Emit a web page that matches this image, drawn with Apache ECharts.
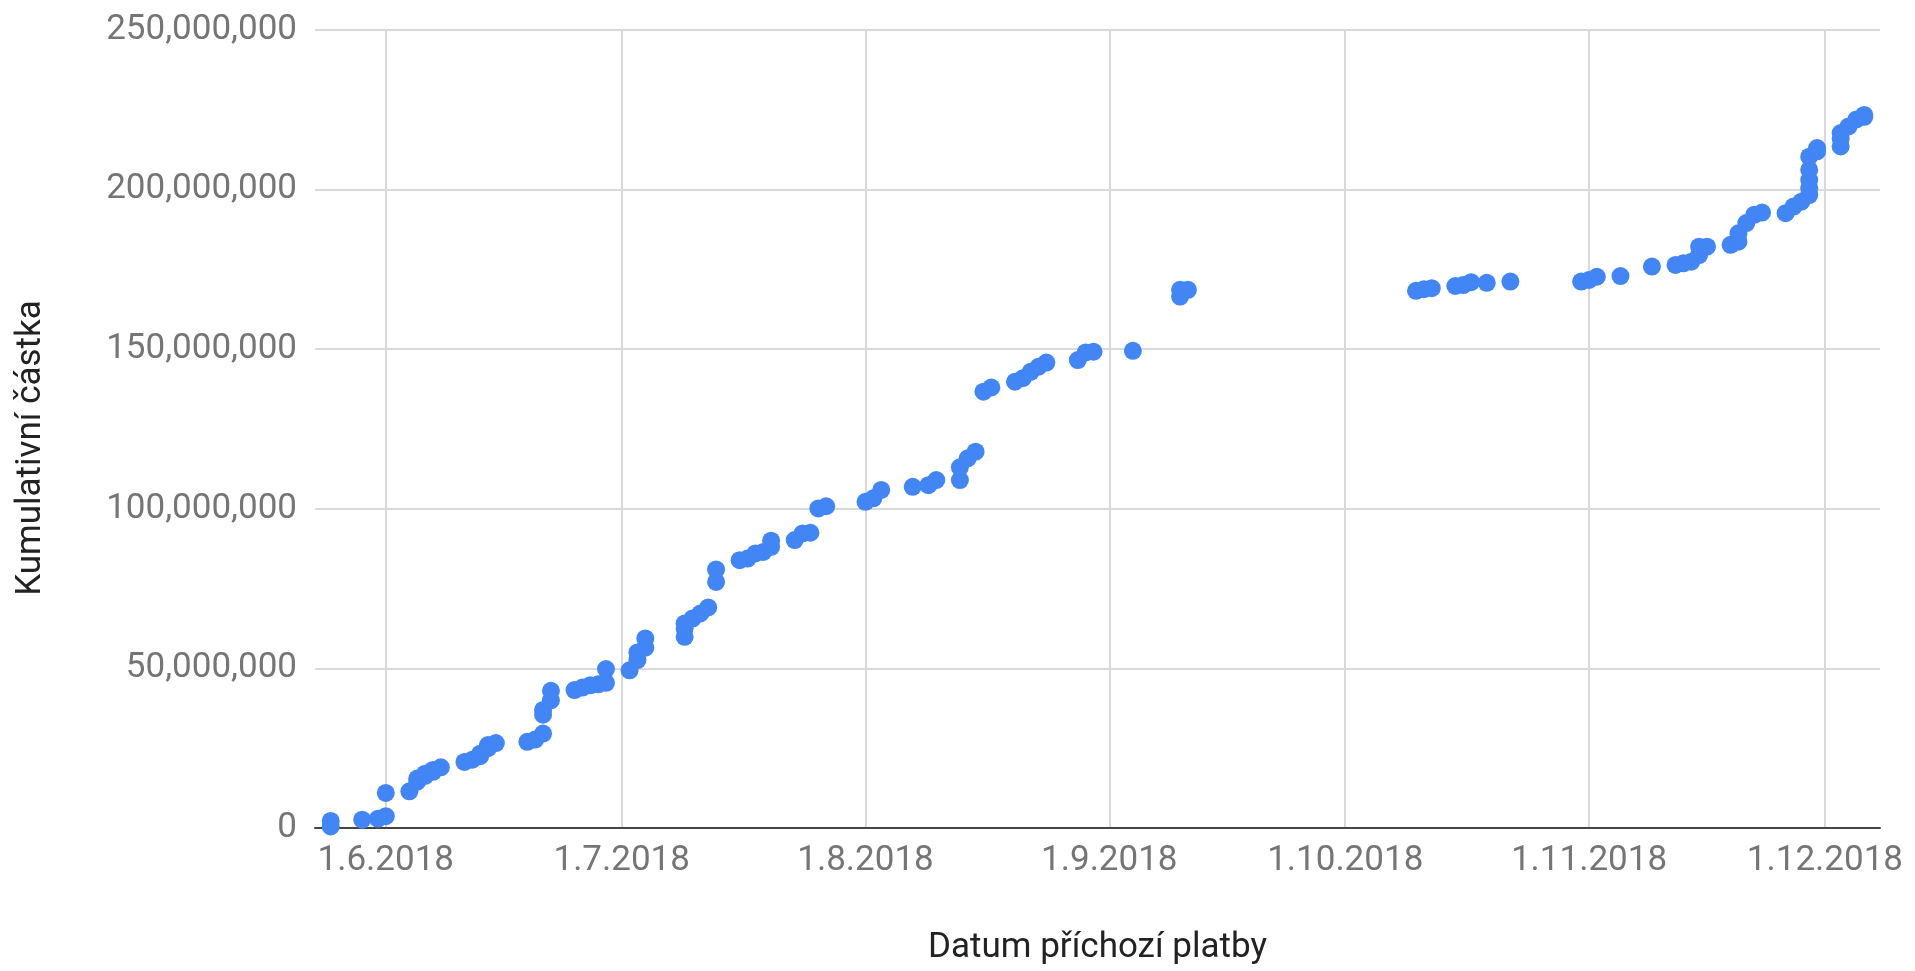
<!DOCTYPE html>
<html>
<head>
<meta charset="utf-8">
<script src="https://cdn.jsdelivr.net/npm/echarts@6/dist/echarts.min.js"></script>
<style>
html,body{margin:0;padding:0;background:#fff;}
#chart{width:1915px;height:971px;}
</style>
</head>
<body>
<div id="chart"></div>
<script>
const dates = [
'2018-05-25','2018-05-25','2018-05-29','2018-05-31','2018-06-01','2018-06-01','2018-06-04','2018-06-05','2018-06-05','2018-06-06',
'2018-06-06','2018-06-07','2018-06-07','2018-06-08','2018-06-11','2018-06-12','2018-06-13','2018-06-13','2018-06-14','2018-06-14',
'2018-06-15','2018-06-19','2018-06-20','2018-06-21','2018-06-21','2018-06-21','2018-06-22','2018-06-22','2018-06-25','2018-06-26',
'2018-06-27','2018-06-28','2018-06-29','2018-06-29','2018-07-02','2018-07-03','2018-07-03','2018-07-04','2018-07-04','2018-07-09',
'2018-07-09','2018-07-09','2018-07-10','2018-07-11','2018-07-12','2018-07-13','2018-07-13','2018-07-16','2018-07-17','2018-07-18',
'2018-07-19','2018-07-20','2018-07-20','2018-07-23','2018-07-24','2018-07-25','2018-07-26','2018-07-27','2018-08-01','2018-08-02',
'2018-08-03','2018-08-07','2018-08-09','2018-08-10','2018-08-13','2018-08-13','2018-08-14','2018-08-15','2018-08-16','2018-08-17',
'2018-08-20','2018-08-21','2018-08-22','2018-08-23','2018-08-24','2018-08-28','2018-08-29','2018-08-30','2018-09-04','2018-09-10',
'2018-09-10','2018-09-11','2018-10-10','2018-10-11','2018-10-12','2018-10-15','2018-10-16','2018-10-17','2018-10-19','2018-10-22',
'2018-10-31','2018-11-01','2018-11-02','2018-11-05','2018-11-09','2018-11-12','2018-11-13','2018-11-14','2018-11-15','2018-11-15',
'2018-11-16','2018-11-19','2018-11-20','2018-11-20','2018-11-21','2018-11-22','2018-11-23','2018-11-26','2018-11-27','2018-11-28',
'2018-11-29','2018-11-29','2018-11-29','2018-11-29','2018-11-29','2018-11-30','2018-11-30','2018-12-03','2018-12-03','2018-12-03',
'2018-12-04','2018-12-05','2018-12-06','2018-12-06'
];
const amounts = [
500000,2200000,2600000,2900000,3700000,11000000,11500000,14500000,15500000,16300000,
17000000,17600000,18200000,19000000,20700000,21400000,22500000,23300000,25000000,26000000,
26600000,27000000,27700000,29600000,35500000,37000000,40000000,43000000,43200000,44000000,
44700000,45000000,45500000,49800000,49400000,52600000,55000000,56500000,59400000,59900000,
62500000,64100000,65600000,67200000,69100000,77100000,81000000,83900000,84400000,86000000,
86500000,88100000,90000000,90200000,92300000,92500000,100100000,100800000,102200000,103300000,
105900000,106900000,107400000,109000000,109000000,113000000,115800000,117900000,136700000,138000000,
139800000,140900000,142900000,144500000,145800000,146600000,149000000,149200000,149500000,166500000,
168600000,168600000,168300000,168800000,169100000,169800000,170100000,171000000,170800000,171200000,
171200000,171700000,172700000,172900000,175900000,176400000,176900000,177400000,179500000,182100000,
182100000,182700000,183700000,186300000,189500000,192100000,192800000,192600000,194700000,196200000,
198300000,200400000,203000000,206200000,210300000,212000000,213000000,213500000,216000000,217700000,
219800000,222000000,222800000,223400000
];
const xTitle = 'Datum příchozí platby';
const yTitle = 'Kumulativní částka';

function ts(s){ return new Date(s + 'T00:00:00').getTime(); }
const points = dates.map((d,i) => [ts(d), amounts[i]]);
const xMin = ts('2018-05-23');
const xMax = ts('2018-12-08');

function isMonthStart(v){ const d = new Date(v); return d.getDate() === 1 && d.getHours() === 0 && d.getMinutes() === 0; }

const chart = echarts.init(document.getElementById('chart'));
chart.setOption({
  animation: false,
  backgroundColor: '#ffffff',
  textStyle: { fontFamily: 'Roboto' },
  grid: { left: 315, right: 35, top: 30, bottom: 143, containLabel: false },
  xAxis: {
    type: 'time',
    min: xMin,
    max: xMax,
    splitNumber: 7,
    name: xTitle,
    nameLocation: 'middle',
    nameGap: 103,
    nameTextStyle: { fontFamily: 'Roboto', fontSize: 35, color: '#222222' },
    axisLine: { show: true, onZero: false, lineStyle: { color: '#444444', width: 2 } },
    axisTick: { show: false },
    axisLabel: {
      margin: 16,
      fontFamily: 'Roboto', fontSize: 35, color: '#757575',
      showMinLabel: false, showMaxLabel: false,
      hideOverlap: false,
      formatter: function (v) {
        if (!isMonthStart(v)) return '';
        const d = new Date(v); return d.getDate() + '.' + (d.getMonth() + 1) + '.' + d.getFullYear();
      }
    },
    splitLine: { show: true, showMinLine: false, showMaxLine: false, lineStyle: { color: '#d9d9d9', width: 2 } }
  },
  yAxis: {
    type: 'value',
    min: 0, max: 250000000, interval: 50000000,
    name: yTitle,
    nameLocation: 'middle',
    nameGap: 266,
    nameTextStyle: { fontFamily: 'Roboto', fontSize: 35, color: '#222222', padding: [0, 38, 0, 0] },
    axisLine: { show: false },
    axisTick: { show: false },
    axisLabel: {
      margin: 18,
      fontFamily: 'Roboto', fontSize: 35, color: '#757575',
      formatter: function (v) { return v.toLocaleString('en-US'); }
    },
    splitLine: { show: true, lineStyle: { color: '#d9d9d9', width: 2 } }
  },
  series: [{
    type: 'scatter',
    data: points,
    symbol: 'circle',
    symbolSize: 18,
    itemStyle: { color: '#4285F4', opacity: 1 },
    z: 5
  }]
});
</script>
</body>
</html>
